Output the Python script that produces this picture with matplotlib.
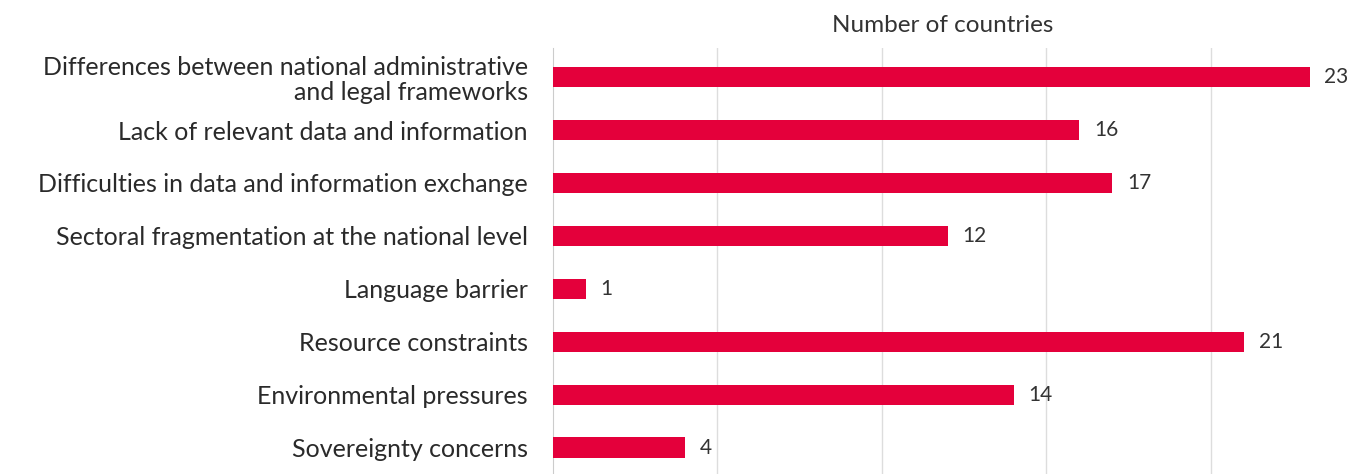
import matplotlib
matplotlib.use('Agg')
import matplotlib.pyplot as plt

categories = ['Differences between national administrative\nand legal frameworks',
              'Lack of relevant data and information',
              'Difficulties in data and information exchange',
              'Sectoral fragmentation at the national level',
              'Language barrier',
              'Resource constraints',
              'Environmental pressures',
              'Sovereignty concerns']
values = [23, 16, 17, 12, 1, 21, 14, 4]

plt.rcParams['font.family'] = ['Lato', 'DejaVu Sans']

fig = plt.figure(figsize=(13.59, 4.74), dpi=100)
ax = fig.add_axes([553/1359, 0, 1 - 553/1359, 1 - 48/474])

pos = list(range(len(categories)))
ax.barh(pos, values, height=0.38, color='#e4003b', zorder=3)
for p, v in zip(pos, values):
    ax.text(v + 0.45, p, str(v), va='center', ha='left', fontsize=15,
            color='#333333')

ax.set_yticks(pos)
ax.set_yticklabels(categories, fontsize=18, color='#2a2a2a', linespacing=1.12)
ax.set_ylim(7.5, -0.55)
ax.set_xlim(0, 24.5)
ax.set_xticks([5, 10, 15, 20])
ax.set_xticklabels([])
ax.tick_params(length=0, pad=18)
ax.grid(axis='x', color='#dddddd', linewidth=1, zorder=0)
for s in ['top', 'right', 'bottom']:
    ax.spines[s].set_visible(False)
ax.spines['left'].set_color('#cccccc')
fig.text(943/1359, 1 - 25/474, 'Number of countries', fontsize=17.5,
         color='#333333', ha='center', va='center')

fig.savefig('out.png', dpi=100)
